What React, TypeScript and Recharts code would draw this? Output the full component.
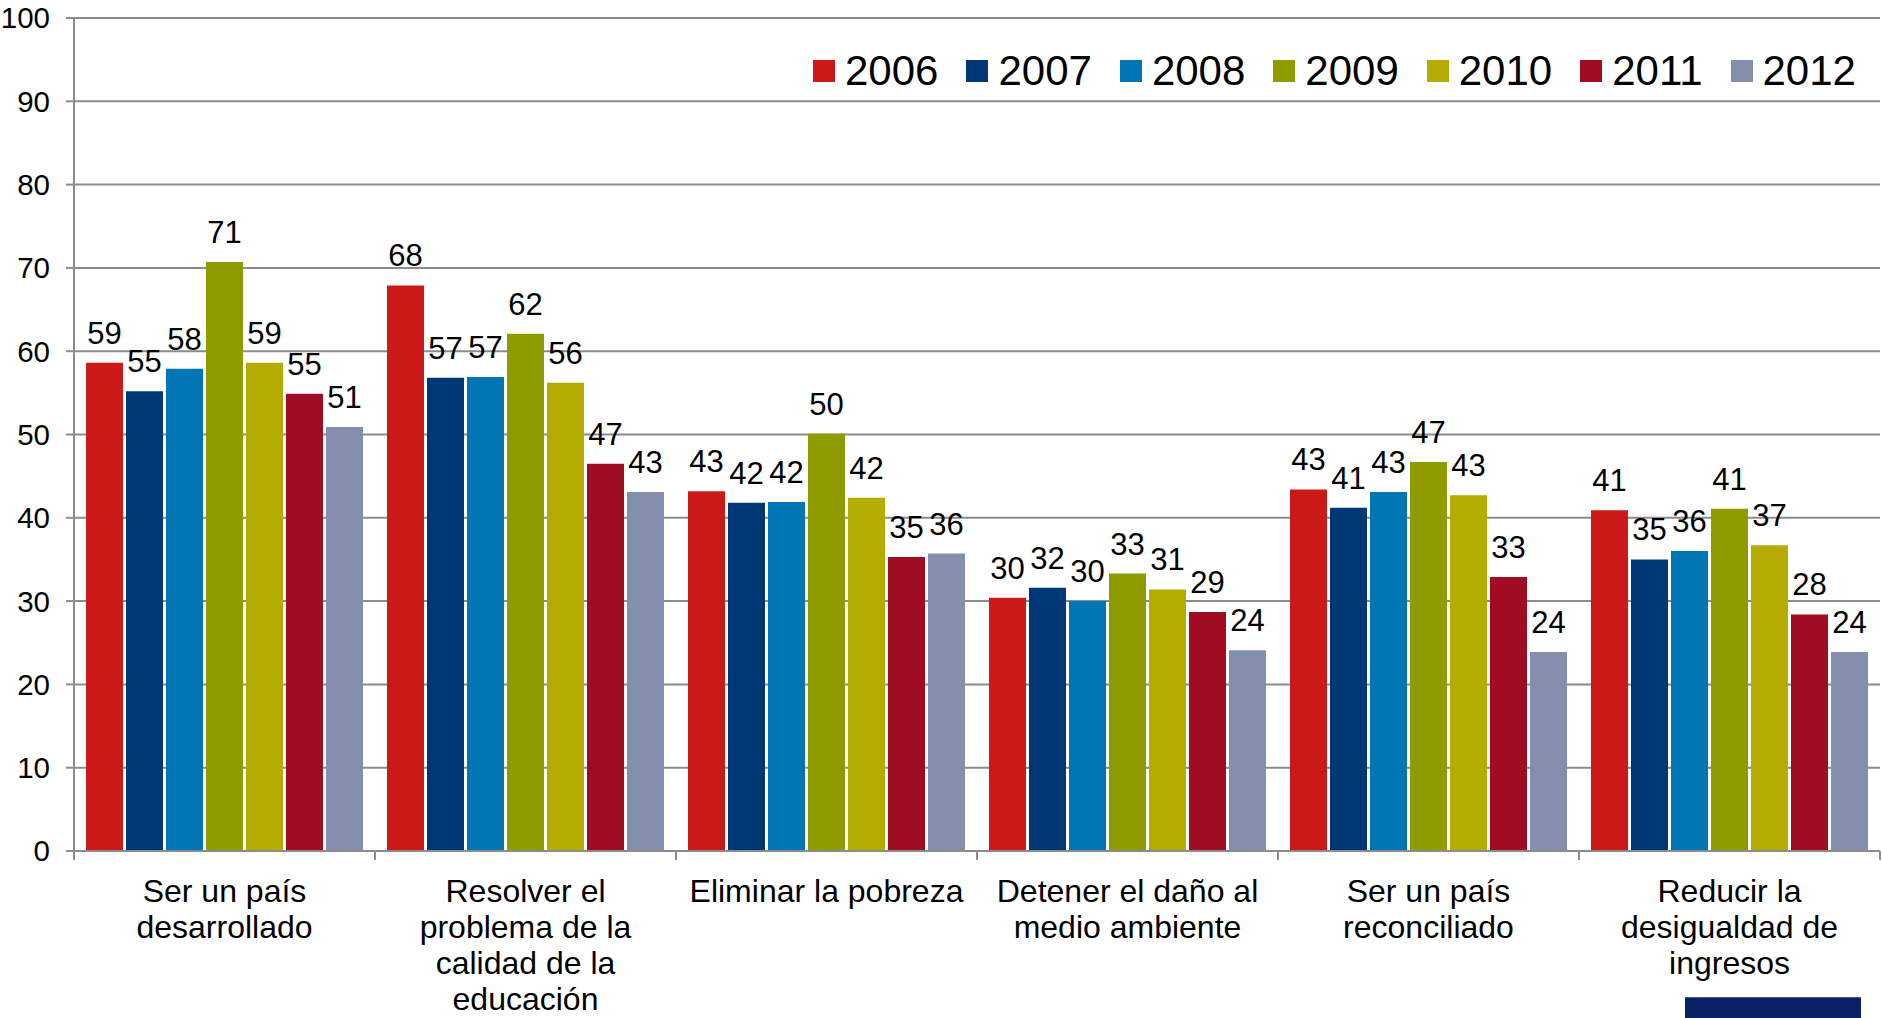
import React from "react";
import { BarChart, Bar, XAxis, YAxis, CartesianGrid, Legend, LabelList } from "recharts";

const categories = [
  "Ser un país desarrollado",
  "Resolver el problema de la calidad de la educación",
  "Eliminar la pobreza",
  "Detener el daño al medio ambiente",
  "Ser un país reconciliado",
  "Reducir la desigualdad de ingresos",
];

const categoryLines = [
  ["Ser un país", "desarrollado"],
  ["Resolver el", "problema de la", "calidad de la", "educación"],
  ["Eliminar la pobreza"],
  ["Detener el daño al", "medio ambiente"],
  ["Ser un país", "reconciliado"],
  ["Reducir la", "desigualdad de", "ingresos"],
];

const years = ["2006", "2007", "2008", "2009", "2010", "2011", "2012"];
const colors = ["#CB1A18", "#003876", "#0077B4", "#8F9C00", "#B4AC00", "#A00D22", "#848FAD"];

const v2006 = [58.6, 67.9, 43.2, 30.4, 43.4, 40.9];
const v2007 = [55.2, 56.8, 41.8, 31.6, 41.2, 35.0];
const v2008 = [57.9, 56.9, 41.9, 30.0, 43.1, 36.0];
const v2009 = [70.7, 62.1, 50.1, 33.3, 46.7, 41.1];
const v2010 = [58.6, 56.2, 42.4, 31.4, 42.7, 36.7];
const v2011 = [54.9, 46.5, 35.3, 28.7, 32.9, 28.4];
const v2012 = [50.9, 43.1, 35.7, 24.1, 23.9, 23.9];

const series = [v2006, v2007, v2008, v2009, v2010, v2011, v2012];
const yTicks = [0, 10, 20, 30, 40, 50, 60, 70, 80, 90, 100];

const data = categories.map((c, i) => {
  const row: any = { name: c, idx: i };
  years.forEach((y, k) => {
    row["y" + y] = series[k][i];
  });
  return row;
});

const W = 1882;
const H = 1018;
const PLOT_LEFT = 74;
const PLOT_RIGHT = 2;
const BAND = (W - PLOT_LEFT - PLOT_RIGHT) / categories.length;
const FONT = "Liberation Sans, Arial, sans-serif";

const CatTick = (props: any) => {
  const { x, y, payload, index } = props;
  const idx = payload.index ?? index;
  const lines = categoryLines[idx] || [payload.value];
  const left = x - BAND / 2;
  const right = x + BAND / 2;
  return (
    <g>
      <line x1={left} y1={y} x2={left} y2={y + 9} stroke="#8C8C8C" strokeWidth={2} />
      {idx === categories.length - 1 && (
        <line x1={right} y1={y} x2={right} y2={y + 9} stroke="#8C8C8C" strokeWidth={2} />
      )}
      <text x={x} y={y} textAnchor="middle" fontFamily={FONT} fontSize={32} fill="#000">
        {lines.map((l: string, i: number) => (
          <tspan key={i} x={x} y={y + 51 + i * 36}>
            {l}
          </tspan>
        ))}
      </text>
    </g>
  );
};

const LegendContent = () => (
  <div style={{ display: "flex", alignItems: "center", fontFamily: FONT }}>
    {years.map((y, k) => (
      <div key={y} style={{ display: "flex", alignItems: "center", marginRight: k === years.length - 1 ? 0 : 28 }}>
        <div style={{ width: 22, height: 22, background: colors[k], marginRight: 10 }} />
        <span style={{ fontSize: 42, lineHeight: "44px", color: "#000" }}>{y}</span>
      </div>
    ))}
  </div>
);

export default function App() {
  return (
    <div style={{ position: "absolute", left: 0, top: 0, width: W, height: H, background: "#fff", overflow: "hidden" }}>
      <BarChart
        width={W}
        height={H}
        data={data}
        margin={{ top: 18, right: PLOT_RIGHT, left: 0, bottom: 0 }}
        barCategoryGap={12}
        barGap={3}
      >
        <CartesianGrid vertical={false} stroke="#8C8C8C" strokeWidth={2} />
        <XAxis
          dataKey="name"
          height={167}
          tickLine={false}
          tickSize={0}
          tickMargin={0}
          axisLine={{ stroke: "#8C8C8C", strokeWidth: 2 }}
          tick={<CatTick />}
          interval={0}
        />
        <YAxis
          width={PLOT_LEFT}
          domain={[0, 100]}
          ticks={yTicks}
          interval={0}
          tickSize={8}
          tickMargin={16}
          axisLine={{ stroke: "#8C8C8C", strokeWidth: 2 }}
          tickLine={{ stroke: "#8C8C8C", strokeWidth: 2 }}
          tick={{ fill: "#000", fontSize: 29.5, fontFamily: FONT }}
        />
        <Legend
          verticalAlign="middle"
          align="center"
          layout="horizontal"
          content={<LegendContent />}
          wrapperStyle={{ top: 49, left: 813, width: 1070 }}
        />
        {years.map((y, k) => (
          <Bar key={y} dataKey={"y" + y} fill={colors[k]} isAnimationActive={false}>
            <LabelList
              dataKey={"y" + y}
              position="top"
              offset={19}
              formatter={(v: any) => String(Math.round(Number(v)))}
              style={{ fill: "#000", fontSize: 31, fontFamily: FONT }}
            />
          </Bar>
        ))}
      </BarChart>
      <div
        style={{
          position: "absolute",
          left: 1685,
          top: 997,
          width: 176,
          height: 21,
          background: "#0A2163",
          borderTop: "1px solid #3A5A98",
        }}
      />
    </div>
  );
}
